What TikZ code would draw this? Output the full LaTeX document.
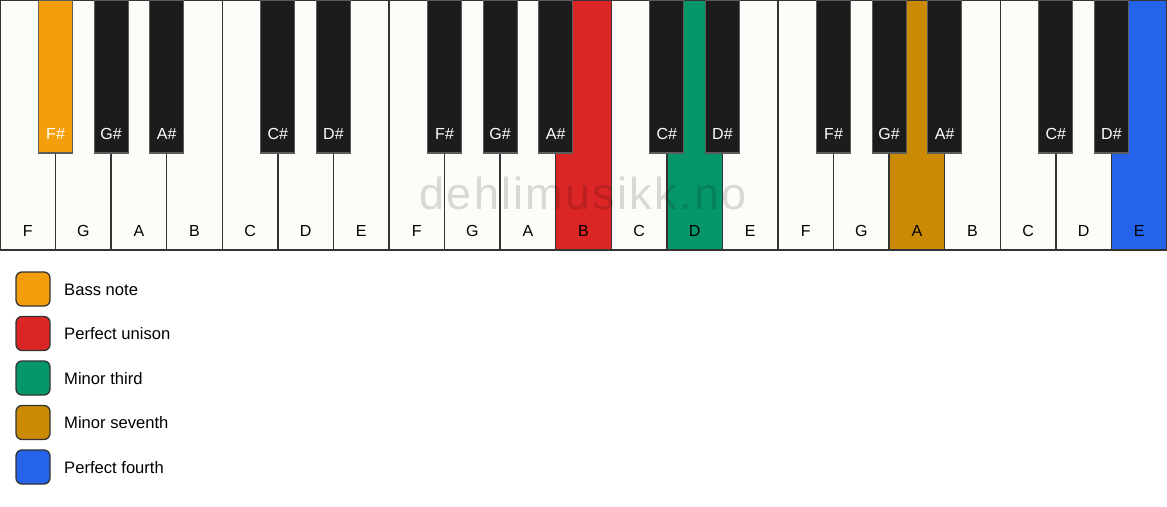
\documentclass[tikz,border=0pt]{standalone}
\usepackage{fontspec}
\setmainfont{Liberation Sans}
\usetikzlibrary{calc}
\definecolor{keywhite}{HTML}{FDFCF8}
\definecolor{keyblack}{HTML}{1C1C1C}
\definecolor{keyedge}{HTML}{333333}
\definecolor{cbass}{HTML}{F59E0B}
\definecolor{cunison}{HTML}{DC2626}
\definecolor{cthird}{HTML}{059669}
\definecolor{cseventh}{HTML}{CA8A04}
\definecolor{cfourth}{HTML}{2563EB}
\tikzset{
  whitekey/.style={draw=keyedge, line width=1.5pt, rectangle, anchor=north west,
    minimum width=55.5714pt, minimum height=250pt, inner sep=0pt, outer sep=0pt},
  blackkey/.style={draw=keyedge!80!white, line width=1.2pt, rectangle, anchor=north,
    minimum width=34pt, minimum height=153pt, inner sep=0pt, outer sep=0pt},
  wlabel/.style={anchor=base, inner sep=0pt, font=\fontsize{16}{18}\selectfont, text=black},
  blabel/.style={anchor=base, inner sep=0pt, font=\fontsize{16}{18}\selectfont, text=white},
  swatch/.style={draw=keyedge, line width=1.3pt, rectangle, rounded corners=6pt,
    minimum width=34pt, minimum height=34pt, inner sep=0pt, outer sep=0pt},
  legtext/.style={anchor=base west, inner sep=0pt, font=\fontsize{16.6}{19}\selectfont, text=black},
}
\begin{document}
\begin{tikzpicture}[x=1pt,y=-1pt]
\useasboundingbox[fill=white] (0,0) rectangle (1167,506);
\def\kw{55.5714}
% white keys
\foreach \n/\c [count=\i from 0] in {F/keywhite,G/keywhite,A/keywhite,B/keywhite,C/keywhite,D/keywhite,E/keywhite,
  F/keywhite,G/keywhite,A/keywhite,B/cunison,C/keywhite,D/cthird,E/keywhite,
  F/keywhite,G/keywhite,A/cseventh,B/keywhite,C/keywhite,D/keywhite,E/cfourth}{
  \node[whitekey, fill=\c] (w\i) at (\i*\kw, 0) {};
  \node[wlabel] (wl\i) at (\i*\kw+\kw/2, 236) {\n};
}
% black keys
\foreach \b/\n/\c in {1/F\#/cbass,2/G\#/keyblack,3/A\#/keyblack,5/C\#/keyblack,6/D\#/keyblack,
  8/F\#/keyblack,9/G\#/keyblack,10/A\#/keyblack,12/C\#/keyblack,13/D\#/keyblack,
  15/F\#/keyblack,16/G\#/keyblack,17/A\#/keyblack,19/C\#/keyblack,20/D\#/keyblack}{
  \node[blackkey, fill=\c] (b\b) at (\b*\kw, 0) {};
  \node[blabel] (bl\b) at (\b*\kw, 139) {\n};
}
% watermark
\node[anchor=base, inner sep=0pt, text=black, text opacity=0.14,
  font=\fontsize{45}{50}\selectfont\addfontfeature{LetterSpace=5}] (wm) at (583, 209) {dehlimusikk.no};
% legend
\foreach \c/\t [count=\k from 0] in {cbass/Bass note,cunison/Perfect unison,cthird/Minor third,cseventh/Minor seventh,cfourth/Perfect fourth}{
  \node[swatch, fill=\c] (s\k) at (33, 289+\k*44.5) {};
  \node[legtext] (t\k) at (64, 289+\k*44.5+6) {\t};
}
\end{tikzpicture}
\end{document}
